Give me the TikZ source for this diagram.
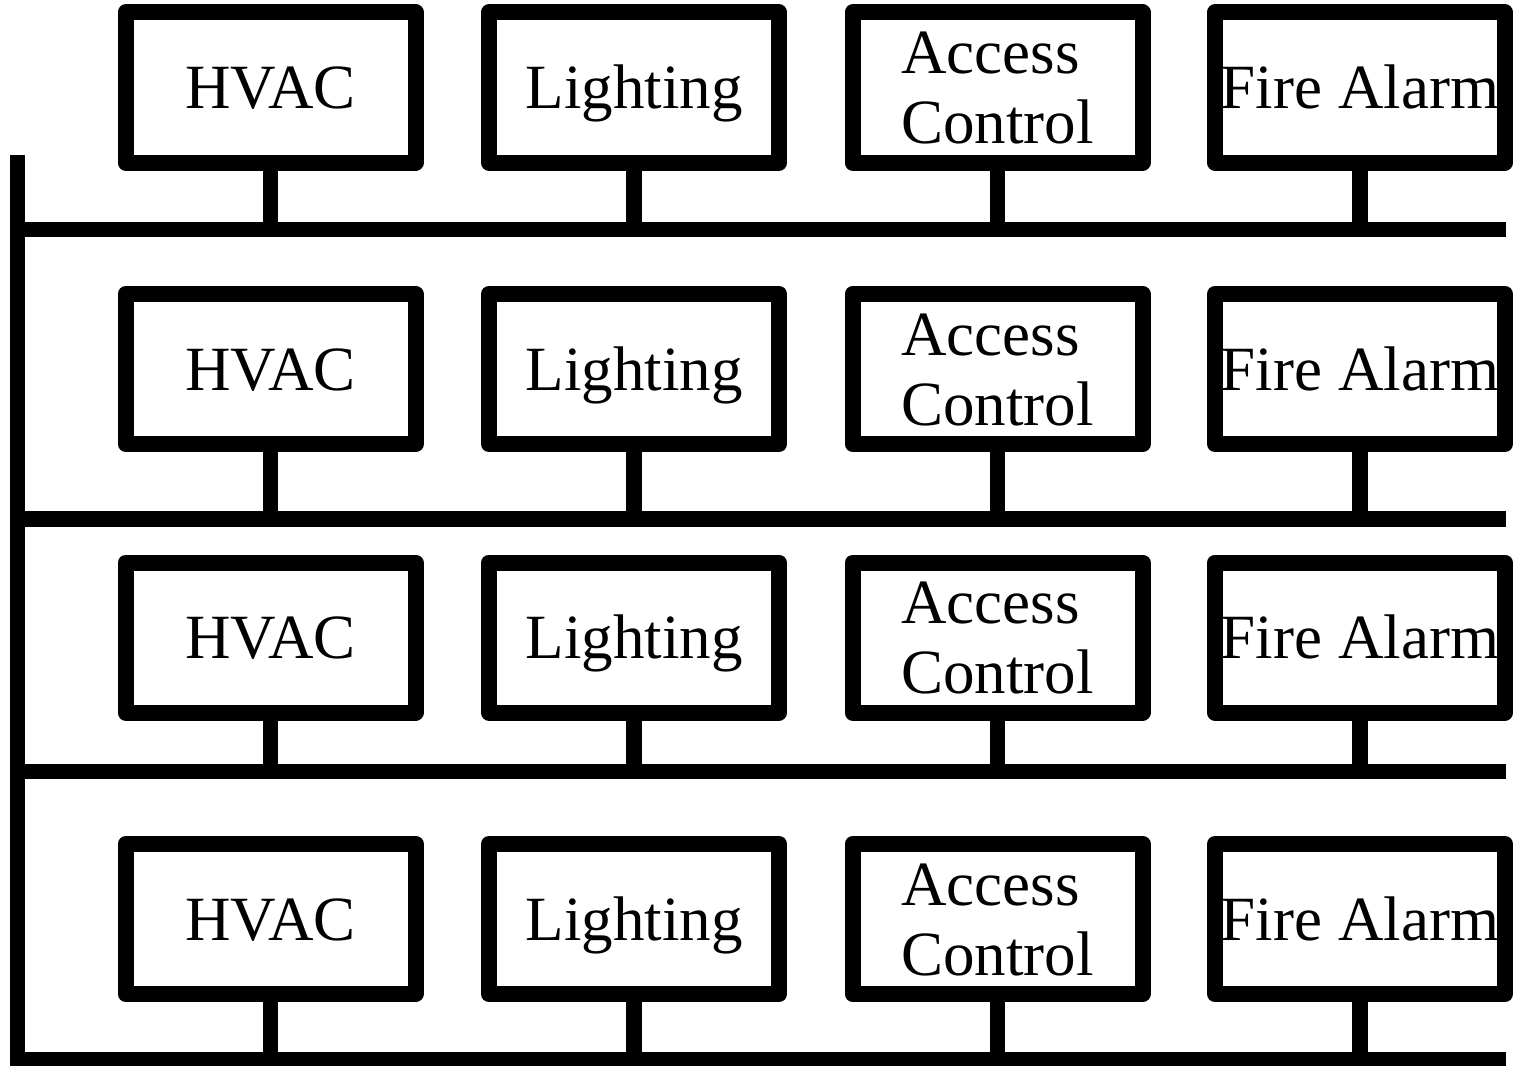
\documentclass[tikz,border=0pt]{standalone}
\usepackage{fontspec}
\setmainfont{Liberation Serif}
\begin{document}
\begin{tikzpicture}[x=1pt,y=-1pt,
  unitbox/.style={draw=black, line width=16pt, line join=round, fill=white,
    minimum width=290pt, minimum height=150pt, inner sep=0pt,
    font=\fontsize{63}{70}\selectfont, text height=42pt, text depth=0pt},
  twoline/.style={align=left, text height=112pt, text depth=0pt},
  wire/.style={line width=15.5pt, line cap=butt}]
\useasboundingbox (0,0) rectangle (1522,1065);
\foreach \r/\y/\by in {1/87.5/229.5, 2/369/519, 3/637.5/771.5, 4/919/1060}{
  \coordinate (busL-\r) at (17.5,\by);
  \coordinate (busR-\r) at (1506,\by);
  \node[unitbox] (b-\r-1) at (270.5,\y) {HVAC};
  \node[unitbox] (b-\r-2) at (634,\y) {Lighting};
  \node[unitbox, twoline] (b-\r-3) at (997.5,\y) {Access\\Control};
  \node[unitbox] (b-\r-4) at (1360,\y) {Fire Alarm};
  \foreach \c in {1,2,3,4}{
    \draw[wire] (b-\r-\c.south) -- (b-\r-\c.south |- busL-\r);
  }
}
\coordinate (busTop) at (17.5,155);
\draw[wire] (busL-1) -- (busR-1);
\draw[wire] (busL-2) -- (busR-2);
\draw[wire] (busL-3) -- (busR-3);
\draw[wire, line join=miter] (busTop) -- (busL-4) -- (busR-4);
\end{tikzpicture}
\end{document}
